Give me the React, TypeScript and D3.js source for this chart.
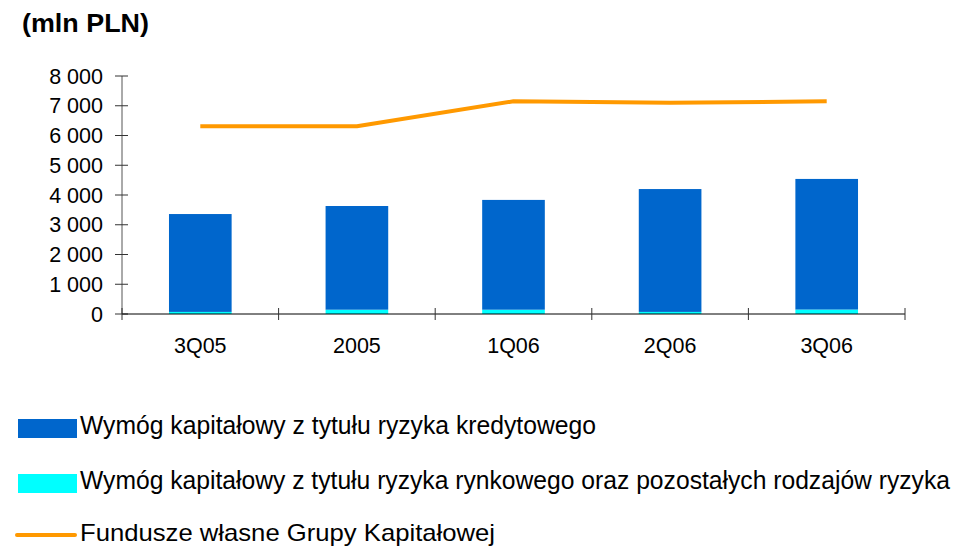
import React from 'react';
import * as d3 from 'd3';

const categories = ['3Q05', '2005', '1Q06', '2Q06', '3Q06'];
const creditRisk = [3290, 3485, 3690, 4130, 4390];
const marketRisk = [70, 145, 145, 70, 150];
const ownFunds = [6310, 6310, 7150, 7100, 7150];
const yTicks = [0, 1000, 2000, 3000, 4000, 5000, 6000, 7000, 8000];

const legendItems = [
    { label: 'Wymóg kapitałowy z tytułu ryzyka kredytowego', color: '#0066CC', kind: 'box', width: 516 },
    { label: 'Wymóg kapitałowy z tytułu ryzyka rynkowego oraz pozostałych rodzajów ryzyka', color: '#00FFFF', kind: 'box', width: 870 },
    { label: 'Fundusze własne Grupy Kapitałowej', color: '#FF9900', kind: 'line', width: 415 }
];

const fmt = (v: number) => d3.format(',')(v).replace(/,/g, ' ');

const App: React.FC = () => {
    const width = 973;
    const height = 548;
    const plot = { left: 122, right: 905, top: 76, bottom: 314 };

    const x = d3.scaleBand<string>()
        .domain(categories)
        .range([plot.left, plot.right])
        .paddingInner(0)
        .paddingOuter(0);

    const y = d3.scaleLinear()
        .domain([0, 8000])
        .range([plot.bottom, plot.top]);

    const barW = x.bandwidth() / 2.5;
    const cx = (c: string) => (x(c) ?? 0) + x.bandwidth() / 2;

    const line = d3.line<number>()
        .x((_, i) => cx(categories[i]))
        .y(d => y(d));

    const font = '"Liberation Sans", Arial, sans-serif';
    const boundaries = [...categories.map(c => x(c) ?? 0), plot.right];

    return (
        <svg width={width} height={height} style={{ position: 'absolute', left: 0, top: 0 }} fontFamily={font}>
            <rect width={width} height={height} fill="#fff" />
            <text x={22} y={32} fontSize={26} fontWeight="bold" fill="#000"
                textLength={127} lengthAdjust="spacingAndGlyphs">(mln PLN)</text>

            {/* bars */}
            {categories.map((c, i) => (
                <g key={c}>
                    <rect x={cx(c) - barW / 2} y={y(marketRisk[i])} width={barW}
                        height={y(0) - y(marketRisk[i])} fill="#00FFFF" />
                    <rect x={cx(c) - barW / 2} y={y(marketRisk[i] + creditRisk[i])} width={barW}
                        height={y(marketRisk[i]) - y(marketRisk[i] + creditRisk[i])} fill="#0066CC" />
                </g>
            ))}

            <path d={line(ownFunds) ?? ''} fill="none" stroke="#FF9900" strokeWidth={4} strokeLinejoin="round" />

            {/* y axis */}
            <line x1={plot.left} x2={plot.left} y1={plot.top} y2={plot.bottom} stroke="#555" strokeWidth={1} />
            {yTicks.map(t => (
                <g key={t}>
                    <line x1={plot.left - 7} x2={plot.left + 6} y1={y(t)} y2={y(t)} stroke="#333" />
                    <text x={103} y={y(t)} dy="0.36em" textAnchor="end" fontSize={21.5} fill="#000">{fmt(t)}</text>
                </g>
            ))}

            {/* x axis */}
            <line x1={plot.left} x2={plot.right} y1={plot.bottom} y2={plot.bottom} stroke="#000" strokeWidth={1} />
            {boundaries.map((b, i) => (
                <line key={i} x1={b} x2={b} y1={plot.bottom - 6} y2={plot.bottom + 6} stroke="#333" />
            ))}
            {categories.map(c => (
                <text key={c} x={cx(c)} y={353} textAnchor="middle" fontSize={21.5} fill="#000">{c}</text>
            ))}

            {/* legend */}
            {legendItems.map((d, i) => {
                const ly = 428 + i * 55;
                const textY = i === 2 ? 541 : ly + 6;
                return (
                    <g key={d.label}>
                        {d.kind === 'box'
                            ? <rect x={18} y={ly - 9} width={59} height={19} fill={d.color} />
                            : <line x1={17} x2={75} y1={535} y2={535} stroke={d.color} strokeWidth={4} strokeLinecap="round" />}
                        <text x={80} y={textY} fontSize={i === 2 ? 24 : 25} fill="#000"
                            textLength={d.width} lengthAdjust="spacingAndGlyphs">{d.label}</text>
                    </g>
                );
            })}
        </svg>
    );
};

export default App;
